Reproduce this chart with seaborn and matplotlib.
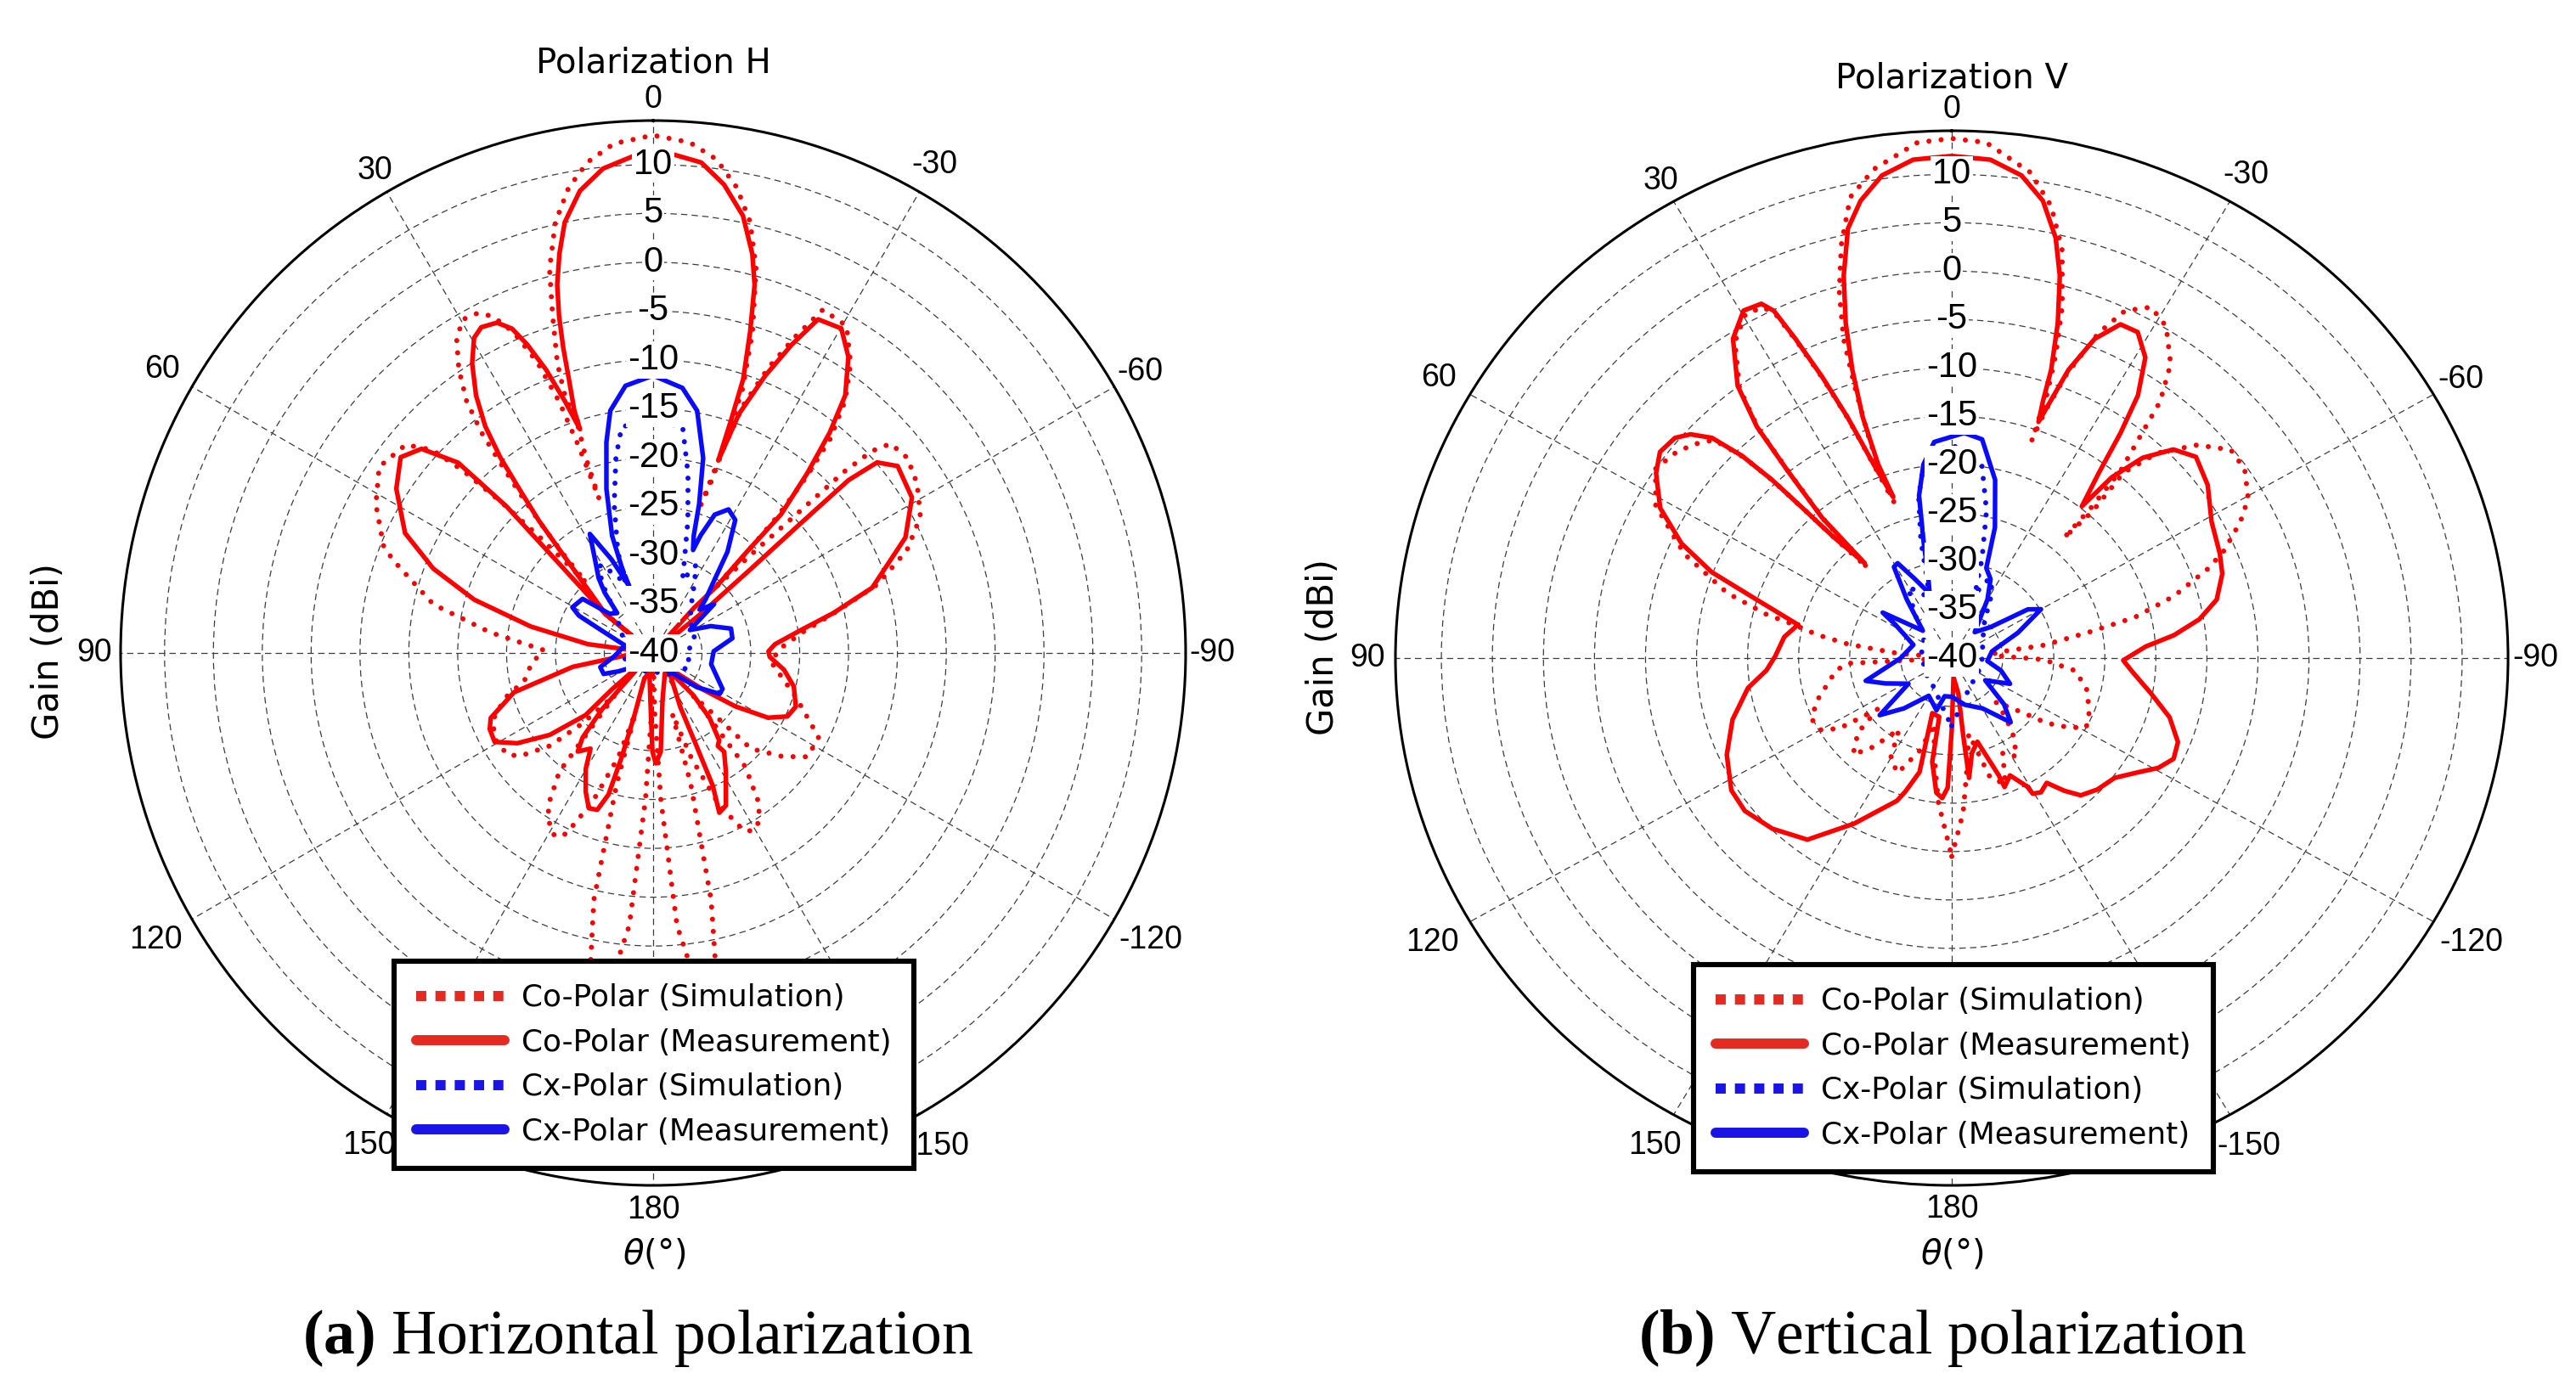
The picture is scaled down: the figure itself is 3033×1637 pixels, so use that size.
import numpy as np
import pandas as pd
import matplotlib
matplotlib.use("Agg")
import matplotlib.pyplot as plt
from matplotlib.lines import Line2D
import seaborn as sns

sns.set_style("white")
plt.rcParams["font.family"] = ["DejaVu Sans"]
plt.rcParams["text.color"] = "black"
plt.rcParams["axes.labelcolor"] = "black"
plt.rcParams["xtick.color"] = "black"
plt.rcParams["ytick.color"] = "black"
plt.rcParams["mathtext.fontset"] = "custom"
plt.rcParams["mathtext.rm"] = "DejaVu Sans"
plt.rcParams["mathtext.it"] = "DejaVu Sans:italic"
plt.rcParams["mathtext.bf"] = "Liberation Serif:bold"

# ---------------- data (theta in degrees, gain in dBi) ----------------

# Polarization H
h_co_meas_theta = [169, 178, 179.6, -178.6, -175.6, -169, -150,
                   -142.4, -153.3, -155, -155.8, -157.5, -154.5, -148.4, -144.3, -145.2, -142.9, -139, -136.4, -137.6,
                   -131.5, -126.3, -123, -119.4, -115.3, -110.6, -103.4, -97.3, -91.9, -89.2, -85.9, -81.2, -77.5, -73.4,
                   -65.4, -59, -52.6, -49.6, -48.5, -48.7, -49.3, -50.6, -46,
                   -42.2, -43.6, -42.8, -42.7, -40.6, -38.7, -36.7, -33.4, -30.1, -26.3, -24.2, -22, -19.75, -18.7,
                   -18.5, -18.2, -16.8, -15.4, -13.95, -11.6, -8.6, -5.6, -2.2, 0, 2.3, 5.9, 9, 11.6, 13.2, 14.6,
                   15.6, 16.4, 17.1, 18, 18.1,
                   19.3, 20.7, 22.2, 23.5, 25.3, 27.8, 29.6, 32, 34.5, 36.5, 38, 39.2, 40.8, 42.3, 45, 50.9, 48,
                   50.6, 46.3, 45, 45.7, 48.6, 52.2, 57.4, 64.2, 69, 73.4, 77.8, 82.3, 88,
                   93, 99.8, 105.8, 111.8, 115, 119.3, 123.6, 128.4, 132.6, 131.5, 131.8,
                   135, 136.9, 137.8, 140.2, 142.6, 146.8, 149.8, 154.1, 157.5, 160.4, 162.5, 163.2, 163.3, 161, 169]
h_co_meas_gain = [-38, -33.6, -29.9, -28.7, -29.85, -35, -37.6,
                  -37.1, -33.85, -29.5, -25.1, -22.3, -22.7, -25.8, -27.55, -28.4, -28.8, -31.2, -34.05, -36.9,
                  -37.2, -33.7, -29.95, -26.5, -24.8, -24.4, -25.2, -26.5, -28.06, -28.2, -27.5, -24.7, -21.1, -16.6,
                  -11.6, -9.1, -8.5, -9.9, -13.3, -20, -26.8, -33.5, -40,
                  -33.8, -30.6, -25.9, -20.7, -15.75, -11.1, -7.1, -3.7, -1.6, -1.9, -5.4, -9.4, -14, -19.2,
                  -14.8, -10.5, -5.65, -0.9, 2.1, 5.7, 8.5, 10.45, 11.1, 11.3, 10.9, 9.85, 7.9, 5.0, 2.0, -1.05,
                  -4.2, -7.4, -10.7, -13.9, -15.9,
                  -12.7, -9.0, -5.9, -3.8, -2.6, -2.3, -2.9, -5.05, -8.0, -11.1, -14.6, -18.3, -22.1, -26, -30, -33.8, -40,
                  -33.5, -26.2, -18.8, -12.1, -8.4, -7.3, -8.8, -11.8, -15.9, -20.9, -27.2, -33.25, -40,
                  -37.8, -31.65, -25.2, -22.1, -21.55, -21.4, -23.3, -26.5, -30.6, -34.35, -37.45,
                  -37.8, -35.3, -32.2, -28.7, -27.3, -28.3, -26.3, -24.2, -22.8, -22.95, -24.8, -28.8, -33.4, -37.25, -38]

h_co_sim_theta = [180, -178.5, -177, -175, -172, -169, -166.8, -164, -162.5, -160, -156.5, -153, -150.6, -148.5, -145, -141, -137,
                  -135.5, -134.4, -128.6, -123.9, -117, -107.2, -94.3, -88, -82, -77, -73, -68, -63, -57.3, -52.5, -48.6,
                  -47.3, -46.5, -46, -45, -43.5,
                  -43, -42.3, -41, -39.6, -37.3, -34.3, -30.6, -26.3, -24.2, -22, -20, -18.8, -17.9,
                  -18.7, -19, -18.7, -17.2, -15, -12.7, -10.2, -7.3, -4.1, 0, 4.4, 7.6, 10.3, 12.8, 15.1, 16.6, 18.3,
                  18.9, 18.3, 19, 19.3,
                  19.8, 20.5, 21.7, 23.5, 25.5, 27.3, 29.7, 32, 34.4, 36.5, 37.9, 38.8, 39.8, 41, 42.3, 43.5,
                  44.4, 45.2, 46.2, 47.4, 49.9, 55.8, 61.8, 68.3, 70.3, 77.5, 82.8, 88.5,
                  95, 102.3, 106.2, 111.4, 114.6, 119.1, 124.9, 127.8, 132, 134.9, 137.8,
                  141.7, 145.5, 149.1, 151.8, 154.3, 157.8, 161.5, 163.5,
                  164.5, 166.5, 169, 172, 175, 177, 178.5, 180]
h_co_sim_gain = [-40, -34, -25, -12, -4, -6, -14, -26, -33.5, -28.5, -23, -19.6, -19.1, -19.5, -21, -25, -34,
                 -31.7, -26, -23, -20.95, -21, -24.7, -27.9, -27, -24.5, -20.5, -16, -12, -9.3, -7.9, -7.2, -7.6,
                 -9.5, -13, -19, -25, -31,
                 -26, -21, -16, -11.6, -7.6, -4.15, -1.1, -0.8, -4.5, -8.5, -13, -18.5, -24.05,
                 -21.6, -17.15, -11.4, -5.6, 0.7, 5.2, 8.4, 10.95, 12.4, 13.0, 12.3, 10.7, 8.4, 5.2, 0.7, -4.0, -8.8,
                 -12.1, -15.55, -18.8, -23.25,
                 -17.5, -12.5, -8, -4.2, -1.8, -0.85, -0.7, -2.05, -4.8, -7.9, -11.4, -15.1, -18.5, -22.5, -26.5, -30,
                 -23.2, -18, -13, -9.3, -6.9, -6.1, -7.8, -10.3, -11.7, -16.95, -23.2, -28.8,
                 -27.5, -26.5, -24.5, -22.6, -22, -21.6, -21.8, -22.8, -25.8, -29.8, -34.2,
                 -24.5, -21, -19.4, -18.7, -19.45, -23.5, -28.7, -33.5,
                 -26, -14, -6, -4, -12, -25, -34, -40]

h_cx_meas_theta = [-139, -128, -121.6, -117.4, -101, -88.4, -79.5, -72.6, -65, -58, -51.3, -47, -44.3, -40.6, -36.3,
                   -31.7, -27.7, -24, -22, -21.2,
                   -19.1, -17.2, -14.4, -10.3, -6.3, 0, 5.9, 10, 12.5, 15.9, 19.3, 20.1, 19.7,
                   24, 28, 32, 36, 38.8, 42,
                   48, 52.5, 60.5, 63.3, 67.2, 75,
                   95, 105, 113, 118, 130, 160, 180, -160, -139]
h_cx_meas_gain = [-37.6, -34.3, -32, -32, -33.95, -33.8, -31.75, -31.65, -33.5, -35.56, -32, -33.5, -32.3, -30.6, -27.15,
                  -24, -23.4, -24.5, -27, -28.7,
                  -27.3, -24.1, -19.4, -14.8, -12.7, -11.6, -12.5, -14.8, -17.9, -22.55, -27.3, -30.7, -32.75,
                  -29.5, -26.2, -28.8, -30.5, -32.1, -34.5,
                  -34, -30.9, -30.5, -31.5, -34.7, -37,
                  -36, -34.4, -34.5, -36, -38, -38.5, -38.5, -38.5, -37.6]

h_cx_sim_theta = [-135, -110, -90, -70, -50, -40, -30, -26, -22, -18.8,
                  -14.7, -11, -7.4, 0, 7.9, 10.8, 14.7, 19.2, 21.7, 26,
                  31, 36, 42, 55, 75, 100, 130, 160, -170, -150, -135]
h_cx_sim_gain = [-37, -36, -36.5, -35.5, -35, -34, -31.5, -30, -32, -30.1,
                 -26, -21.3, -16.6, -16.3, -16.6, -19.65, -24.3, -29, -32.4, -31,
                 -29.5, -31, -34, -36, -37, -37, -37.5, -38, -38, -37.5, -37]

# Polarization V
v_co_meas_theta = [77.1, 72.5, 69.3, 65.9, 61.5, 56.6, 53.3, 50, 47.9, 45.9, 44.5, 43.7, 43.3, 42.8, 41,
                   41.2, 39.7, 38.6, 36.7, 33, 29.6, 27, 25.9, 24.9, 23.6, 22.3, 20.9, 19,
                   19.8, 19.3, 18.1, 16.7, 15, 12.9, 10.7, 7.8, 4.2, 0, -4.2, -7.8, -10.7, -13.2, -15, -16.7, -18.1,
                   -18.6, -19.2,
                   -21, -23, -25.6, -28.4, -31.4, -33.9, -35.4, -37, -39.1,
                   -40, -42.1, -45.2, -49, -54.5, -61, -67.6, -71.8, -76.9, -80.6, -83.8, -86.4, -90.8,
                   -94.4, -100.7, -106, -111.4, -115.6, -119.3, -123, -127.8, -133.6, -138.3, -141.2, -144.2, -147.8,
                   -150.5, -150.9, -154.8, -158.8, -159.2, -161.9, -163.8, -168.6, -172.2, -172, -170, -175,
                   180, 178.3, 176.3, 173.8, 169.9, 168.6, 161.5, 165, 161.8, 160, 150.8, 143, 135.1, 127.9, 122.3,
                   114.4, 106.5, 98.8, 94, 89.4, 82.4, 77.1]
v_co_meas_gain = [-24.55, -20, -14.85, -11, -7.5, -5.3, -4.35, -4.6, -5.5, -7.3, -10.7, -14.55, -18.7, -22.9, -27,
                  -20.7, -14.8, -9.4, -4.9, -0.65, 1.3, 1.1, -0.1, -3.6, -8.25, -13.1, -18.6, -22.4,
                  -18.7, -13.6, -8.65, -3.85, 0.9, 5.55, 8.1, 10.35, 11.65, 11.9, 11.65, 10.35, 8.1, 4.6, 0.9, -3.85, -8.65,
                  -12, -14.15,
                  -8.1, -4.15, -1.75, -1.7, -3.6, -7.3, -11.45, -16.1, -19.8,
                  -15.6, -12.1, -9.4, -8.3, -9.2, -10.9, -11.6, -12.1, -13.35, -15.4, -18.1, -20.95, -23.2,
                  -22.3, -20.1, -17.8, -16.2, -15.9, -16.8, -18.3, -19.8, -20.3, -21, -22.4, -24.1, -23.6,
                  -23.9, -24.8, -26.6, -25.7, -27.05, -29.7, -31, -30, -27.5, -32, -36.3, -38,
                  -32.6, -26.6, -25.5, -26, -29.1, -33.8, -34, -27.8, -25.5, -24.3, -20.4, -16.5, -15.1, -14.3, -14.45,
                  -15.8, -17.6, -19.8, -21.8, -22.7, -23.45, -24.55]

v_co_sim_theta = [180, -176, -172, -168, -163, -158, -153, -148, -143, -139, -136.3,
                  -128.8, -125.8, -121.9, -118.5, -112.9, -104.2, -96.2, -91, -86,
                  -82.4, -81.6, -78.7, -76.8, -73.6, -69.8, -67.4, -63.5, -60.4, -55.8, -51.8, -47.5, -43.5, -41.3,
                  -42.3, -41.5,
                  -41.3, -40.5, -38.7, -37.6, -35.2, -31.5, -28.3, -25.3, -23.2, -21, -19.7, -19.2,
                  -19.1, -18.9, -18, -16.6, -14.4, -11.8, -8.7, -3.6, 0, 3.6, 8.6, 11.8, 14.2, 16.2, 17.8, 18.7, 19.5,
                  20, 19.3,
                  20.9, 22.3, 23.6, 24.9, 25.9, 27, 29.6, 33, 36.7, 38.6, 39.7, 41.2, 41.5,
                  42.8, 43.3, 43.7, 44.5, 45.9, 48.9, 52, 56, 61.5, 67.7, 73, 76, 77.4, 79.7, 81.9, 84.7, 88,
                  93.1, 96.4, 108.9, 114.9, 120.2, 123.4, 126, 130, 135.9, 140, 145, 150, 156, 162, 166, 170, 175, 180]
v_co_sim_gain = [-19.5, -24, -29, -32, -27, -26, -29, -28, -30, -32, -33.75,
                 -30.9, -28.5, -26.4, -25, -25.4, -26.3, -27.8, -31, -36,
                 -35.6, -30.86, -26.25, -21.6, -17.3, -13.25, -11.1, -8.4, -6.6, -5.3, -5.2, -7.4, -10.8, -14.5,
                 -19.6, -23.4,
                 -19.4, -14.5, -10.15, -6.55, -2.8, 0.2, 1.2, -0.3, -3.4, -8.5, -13, -16.2,
                 -14.7, -11.25, -7, -2.1, 3.5, 7.7, 10.8, 13.4, 13.7, 13.4, 11.1, 8.65, 4.1, -0.5, -5.3, -10.3, -15,
                 -19, -23,
                 -18.8, -13.3, -8.5, -3.9, -0.5, 0.7, 0.9, -1, -5.2, -9.6, -15, -20.9, -27.5,
                 -23, -18.8, -14.7, -10.9, -7.6, -6.4, -5.6, -5.0, -7.0, -11.7, -17, -21.25, -24.1, -26.7, -29.7, -34.6, -40,
                 -29.8, -28.6, -25.95, -24.9, -25.2, -26.8, -31, -28, -26.1, -28, -31, -28, -27, -30, -33, -30, -25, -19.5]

v_cx_meas_theta = [180, -165, -150, -139, -133, -125, -115, -105, -95, -80, -68, -60, -56, -50, -40, -30, -25, -20,
                   -17.4, -13, -7.5, -3, 4.4, 7.9, 10.8, 13, 15, 18,
                   24, 28.4, 31, 36, 45, 55.2, 58, 70, 90, 105.6, 112, 122, 129.9, 138, 150, 164.5, 170, 180]
v_cx_meas_gain = [-36, -35, -34, -31.2, -33, -36, -33.7, -35, -36.5, -36, -33, -29.9, -31, -35, -36.5, -33, -31, -30.1,
                  -25.85, -21.1, -17.2, -16.7, -17.6, -19.8, -22.9, -27.8, -31, -33,
                  -31, -28.85, -29, -32.5, -36, -31.76, -33.5, -36, -35, -31.25, -33, -35, -30.8, -33, -35.5, -34.4, -36, -36]

v_cx_sim_theta = [180, -150, -120, -90, -60, -40, -30, -24, -19, -16.1,
                  -12.6, -8.4, -3, 3, 8, 11, 14, 17, 22, 30,
                  38, 50, 80, 120, 150, 175, 180]
v_cx_sim_gain = [-33, -36.5, -37, -37, -36.5, -35, -32, -31, -33, -29.3,
                 -24.4, -19.8, -18, -18.3, -20, -23, -27.5, -32, -33, -31.5,
                 -34, -36.5, -37, -37, -36.5, -34, -33]

ring_values = [-40, -35, -30, -25, -20, -15, -10, -5, 0, 5, 10]
angle_ticks = [0, 30, 60, 90, 120, 150, 180, 210, 240, 270, 300, 330]
angle_labels = ["0", "30", "60", "90", "120", "150", "180", "-150", "-120", "-90", "-60", "-30"]
legend_labels = ["Co-Polar (Simulation)", "Co-Polar (Measurement)",
                 "Cx-Polar (Simulation)", "Cx-Polar (Measurement)"]

# ---------------- styling ----------------
red = "#ff0000"
blue = "#0a0aff"
legend_red = "#e42a21"
legend_blue = "#1a14e6"
dotted = (0, (0.01, 2.4))
# radial position (in dB units) of the centre of each angle label
label_radius = [16.7, 17.0, 18.0, 17.2, 18.8, 18.2, 17.0, 18.3, 18.8, 17.2, 17.6, 17.7]
W, H = 3033, 1637

fig = plt.figure(figsize=(W / 100, H / 100), dpi=100)
fig.patch.set_facecolor("white")


def add_curve(ax, theta, gain, color, dashed):
    df = pd.DataFrame({"theta": np.deg2rad(theta), "gain": gain})
    if dashed:
        sns.lineplot(data=df, x="theta", y="gain", ax=ax, sort=False, estimator=None,
                     color=color, linewidth=4.3, linestyle=dotted, dash_capstyle="round")
    else:
        sns.lineplot(data=df, x="theta", y="gain", ax=ax, sort=False, estimator=None,
                     color=color, linewidth=3.9, solid_capstyle="round", solid_joinstyle="round")


def panel(rect, curves):
    ax = fig.add_axes(rect, projection="polar")
    ax.set_theta_zero_location("N")
    ax.set_theta_direction(1)
    for theta, gain, color, dashed in curves:
        add_curve(ax, theta, gain, color, dashed)
    ax.set_aspect("auto")
    ax.set_ylim(-40, 14.5)
    ax.set_yticks(ring_values[1:])
    ax.set_yticklabels([])
    ax.set_thetagrids(angle_ticks, [""] * len(angle_ticks))
    ax.set_xticks(np.deg2rad(np.arange(0, 360, 5)), minor=True)
    ax.tick_params(axis="x", which="both", direction="in", length=10, width=1.4, color="black")
    ax.grid(True, which="major", color="#3c3c3c", linestyle=(0, (6, 4)), linewidth=0.9)
    ax.set_axisbelow(True)
    ax.spines["polar"].set_linewidth(2.2)
    ax.spines["polar"].set_color("black")
    ax.set_xlabel("")
    ax.set_ylabel("")
    for a, lab, r in zip(angle_ticks, angle_labels, label_radius):
        ax.text(np.deg2rad(a), r, lab, ha="center", va="center", fontsize=27,
                family="Liberation Sans", color="black", clip_on=False)
    for v in ring_values:
        ax.text(0, v, f"{v}", ha="center", va="center", fontsize=30, family="Liberation Sans",
                color="black", zorder=6,
                bbox=dict(boxstyle="square,pad=0.04", fc="white", ec="none"))
    return ax


ax_h = panel([142 / W, 1 - 1396 / H, 1254 / W, 1254 / H],
             [(h_co_sim_theta, h_co_sim_gain, red, True),
              (h_co_meas_theta, h_co_meas_gain, red, False),
              (h_cx_sim_theta, h_cx_sim_gain, blue, True),
              (h_cx_meas_theta, h_cx_meas_gain, blue, False)])

ax_v = panel([1643 / W, 1 - 1396 / H, 1310 / W, 1242 / H],
             [(v_co_sim_theta, v_co_sim_gain, red, True),
              (v_co_meas_theta, v_co_meas_gain, red, False),
              (v_cx_sim_theta, v_cx_sim_gain, blue, True),
              (v_cx_meas_theta, v_cx_meas_gain, blue, False)])

# titles and axis labels
fig.text(769 / W, 1 - 75 / H, "Polarization H", ha="center", va="center", fontsize=29)
fig.text(2298 / W, 1 - 92 / H, "Polarization V", ha="center", va="center", fontsize=29)
fig.text(57 / W, 1 - 767 / H, "Gain (dBi)", ha="center", va="center", rotation=90, fontsize=30)
fig.text(1558 / W, 1 - 762 / H, "Gain (dBi)", ha="center", va="center", rotation=90, fontsize=30)
fig.text(770 / W, 1 - 1478 / H, r"$\theta$(°)", ha="center", va="center", fontsize=29)
fig.text(2298 / W, 1 - 1478 / H, r"$\theta$(°)", ha="center", va="center", fontsize=29)

# captions
fig.text(751 / W, 1 - 1576 / H, r"$\mathbf{(a)}$ Horizontal polarization", ha="center", va="center",
         fontsize=53, family="Liberation Serif")
fig.text(2287 / W, 1 - 1576 / H, r"$\mathbf{(b)}$ Vertical polarization", ha="center", va="center",
         fontsize=53, family="Liberation Serif")


# legends
def make_handles():
    sq = (0, (1, 0.9))
    return [Line2D([], [], color=legend_red, lw=8.6, linestyle=sq, dash_capstyle="butt"),
            Line2D([], [], color=legend_red, lw=8.6),
            Line2D([], [], color=legend_blue, lw=8.6, linestyle=sq, dash_capstyle="butt"),
            Line2D([], [], color=legend_blue, lw=8.6)]


for cx, cy in [(770, 1254), (2300, 1258)]:
    leg = fig.legend(make_handles(), legend_labels, loc="center",
                     bbox_to_anchor=(cx / W, 1 - cy / H), bbox_transform=fig.transFigure,
                     fontsize=25.8, frameon=True, fancybox=False, edgecolor="black", facecolor="white",
                     framealpha=1, handlelength=2.9, handletextpad=0.56, labelspacing=0.52, borderpad=0.72)
    leg.get_frame().set_linewidth(4.4)
    for t in leg.get_texts():
        t.set_color("black")

fig.savefig("out.png", dpi=100, facecolor="white")
